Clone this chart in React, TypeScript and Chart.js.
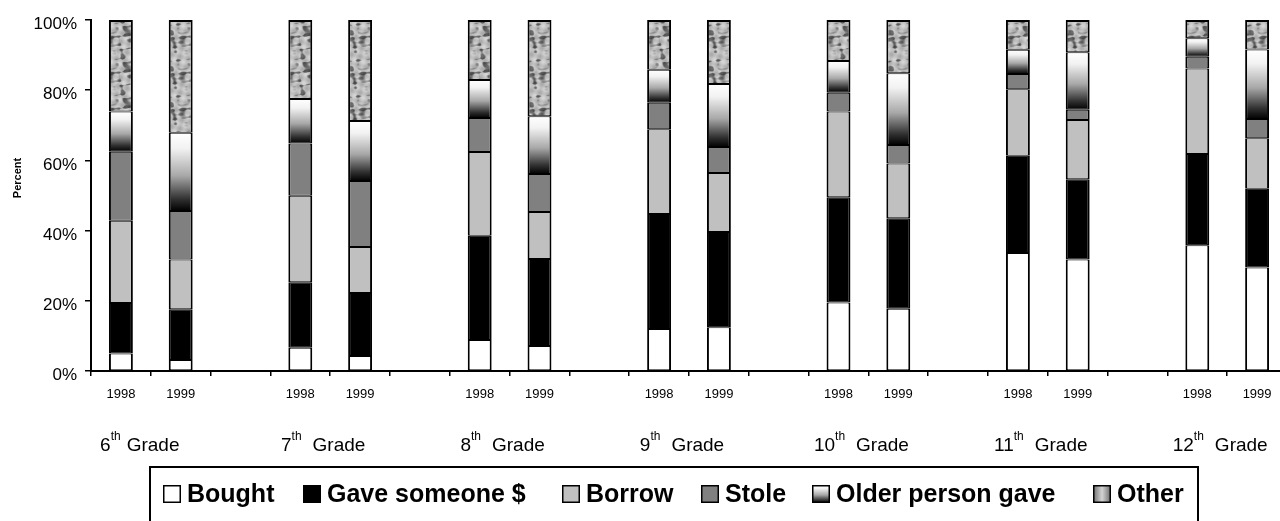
import { useEffect, useRef } from 'react';
import { Chart, registerables } from 'chart.js';

Chart.register(...registerables);

const FONT = '"Liberation Sans", Arial, Helvetica, sans-serif';

const YEARS = ['1998', '1999'];
const GRADES = ['6', '7', '8', '9', '10', '11', '12'];
const SERIES = ['Bought', 'Gave someone $', 'Borrow', 'Stole', 'Older person gave', 'Other'];
const Y_TICKS = [0, 20, 40, 60, 80, 100];

// one value per bar: 6th 1998, 6th 1999, 7th 1998, 7th 1999, ... 12th 1999
const bought = [5.0, 3.1, 6.6, 4.3, 8.8, 7.1, 12.0, 12.5, 19.5, 17.7, 33.6, 31.8, 35.8, 29.5];
const gave = [14.4, 14.5, 18.7, 17.9, 29.7, 24.8, 32.7, 27.1, 30.0, 25.8, 27.7, 22.8, 26.0, 22.4];
const borrow = [23.4, 14.2, 24.6, 13.1, 23.9, 13.4, 24.2, 16.8, 24.4, 15.6, 19.0, 16.9, 24.4, 14.4];
const stole = [19.7, 13.8, 14.9, 18.8, 9.7, 10.8, 7.5, 7.4, 5.4, 5.3, 4.3, 2.9, 3.3, 5.5];
const older = [11.4, 22.3, 12.7, 17.1, 10.8, 16.5, 9.4, 18.0, 9.0, 20.4, 6.9, 16.4, 5.3, 19.8];
const other = [26.1, 32.1, 22.5, 28.8, 17.1, 27.4, 14.2, 18.2, 11.7, 15.2, 8.5, 9.2, 5.2, 8.4];

// legend item x positions (layout)
const LEGEND_BOX_X = [163, 303, 562, 701, 812, 1093];

// build category list: 1998, 1999, gap, 1998, 1999, gap, ...
const labels: string[] = [];
GRADES.forEach((_, gi) => {
  YEARS.forEach((y) => labels.push(y));
  if (gi < GRADES.length - 1) labels.push('');
});
const spread = (arr: number[]) => {
  const out: (number | null)[] = [];
  arr.forEach((v, i) => {
    out.push(v);
    if (i % 2 === 1 && i < arr.length - 1) out.push(null);
  });
  return out;
};

function makeTexture(): CanvasPattern | string {
  const size = 36;
  const c = document.createElement('canvas');
  c.width = size;
  c.height = size;
  const g = c.getContext('2d');
  if (!g) return '#aaaaaa';
  const img = g.createImageData(size, size);
  const a = (Math.PI * 2) / size;
  for (let y = 0; y < size; y++) {
    for (let x = 0; x < size; x++) {
      const f =
        Math.sin(a * (x + 2 * y) + 2 * Math.sin(a * 3 * y)) +
        Math.sin(a * (2 * x - y) + 1.5 * Math.cos(a * 2 * x)) +
        0.6 * Math.sin(a * (3 * x + 2 * y) + 1.2 * Math.sin(a * (x - 3 * y)));
      const m = 0.5 * Math.cos(a * (4 * x + y)) + 0.5 * Math.sin(a * (x - 4 * y));
      const dark = Math.max(0, f - 0.15);
      let v = 192 + 22 * m - 70 * Math.min(1.5, dark);
      v = Math.max(70, Math.min(232, v));
      const k = (y * size + x) * 4;
      img.data[k] = v;
      img.data[k + 1] = v;
      img.data[k + 2] = v;
      img.data[k + 3] = 255;
    }
  }
  g.putImageData(img, 0, 0);
  const ctx = document.createElement('canvas').getContext('2d');
  return ctx ? (ctx.createPattern(c, 'repeat') as CanvasPattern) : '#aaaaaa';
}

function fillOlder(ctx: CanvasRenderingContext2D, top: number, bottom: number) {
  const g = ctx.createLinearGradient(0, top, 0, bottom);
  g.addColorStop(0, '#ffffff');
  g.addColorStop(0.2, '#f2f2f2');
  g.addColorStop(0.55, '#a8a8a8');
  g.addColorStop(0.85, '#303030');
  g.addColorStop(1, '#000000');
  return g;
}

export default function App() {
  const ref = useRef<HTMLCanvasElement>(null);

  useEffect(() => {
    const canvas = ref.current;
    if (!canvas) return;
    const texture = makeTexture();

    const olderBg = (c: any) => {
      const chart = c.chart;
      const ys = chart.scales && chart.scales.y;
      if (c.type !== 'data' || !ys) return '#999999';
      const i = c.dataIndex;
      const v = c.raw;
      if (v == null || typeof i !== 'number') return '#999999';
      let base = 0;
      for (let d = 0; d < c.datasetIndex; d++) base += (chart.data.datasets[d].data[i] as number) || 0;
      const yb = ys.getPixelForValue(base);
      const yt = ys.getPixelForValue(base + v);
      if (!Number.isFinite(yb) || !Number.isFinite(yt) || yb === yt) return '#999999';
      return fillOlder(chart.ctx, yt, yb);
    };

    const fills: any[] = ['#ffffff', '#000000', '#c0c0c0', '#808080', olderBg, texture];
    const seriesData = [bought, gave, borrow, stole, older, other];

    const extras = {
      id: 'extras',
      afterDraw(chart: any) {
        const ctx: CanvasRenderingContext2D = chart.ctx;
        const xs = chart.scales.x;
        ctx.save();
        ctx.fillStyle = '#000';

        // y title
        ctx.save();
        ctx.translate(18, 178);
        ctx.rotate(-Math.PI / 2);
        ctx.font = `bold 11px ${FONT}`;
        ctx.textAlign = 'center';
        ctx.textBaseline = 'middle';
        ctx.fillText('Percent', 0, 0);
        ctx.restore();

        // grade labels
        ctx.textAlign = 'left';
        ctx.textBaseline = 'alphabetic';
        GRADES.forEach((g, gi) => {
          const c = (xs.getPixelForValue(gi * 3) + xs.getPixelForValue(gi * 3 + 1)) / 2;
          ctx.font = `19px ${FONT}`;
          const w1 = ctx.measureText(g).width;
          const w3 = ctx.measureText('Grade').width;
          ctx.font = `12px ${FONT}`;
          const w2 = ctx.measureText('th').width;
          const gap = gi === 0 ? 6 : 11;
          const total = w1 + w2 + gap + w3;
          let x = c - total / 2 - (gi === 0 ? 11 : 7);
          ctx.font = `19px ${FONT}`;
          ctx.fillText(g, x, 451);
          x += w1;
          ctx.font = `12px ${FONT}`;
          ctx.fillText('th', x, 440);
          x += w2 + gap;
          ctx.font = `19px ${FONT}`;
          ctx.fillText('Grade', x, 451);
        });

        // legend frame
        ctx.strokeStyle = '#000';
        ctx.lineWidth = 2;
        ctx.beginPath();
        ctx.moveTo(150, 540);
        ctx.lineTo(150, 467);
        ctx.lineTo(1198, 467);
        ctx.lineTo(1198, 540);
        ctx.stroke();

        // legend items
        const bs = 18;
        const by = 485;
        SERIES.forEach((name, si) => {
          const bx = LEGEND_BOX_X[si];
          let f: any = fills[si];
          if (si === 4) f = fillOlder(ctx, by, by + bs);
          if (si === 5) {
            const g = ctx.createLinearGradient(bx, 0, bx + bs, 0);
            g.addColorStop(0, '#6a6a6a');
            g.addColorStop(0.5, '#d4d4d4');
            g.addColorStop(1, '#6a6a6a');
            f = g;
          }
          ctx.fillStyle = f;
          ctx.fillRect(bx, by, bs, bs);
          ctx.strokeStyle = '#000';
          ctx.lineWidth = 1.5;
          ctx.strokeRect(bx + 0.75, by + 0.75, bs - 1.5, bs - 1.5);
          ctx.fillStyle = '#000';
          ctx.font = `bold 25px ${FONT}`;
          ctx.textBaseline = 'middle';
          ctx.fillText(name, bx + 24, by + bs / 2 + 1);
        });
        ctx.restore();
      },
    };

    const chart = new Chart(canvas, {
      type: 'bar',
      data: {
        labels,
        datasets: SERIES.map((name, si) => ({
          label: name,
          data: spread(seriesData[si]),
          backgroundColor: fills[si],
          borderColor: '#000000',
          borderWidth: { top: si === 5 ? 2 : 1, bottom: 1, left: 2, right: 2 },
          borderSkipped: false,
          barPercentage: 0.4,
          categoryPercentage: 1,
        })),
      },
      options: {
        responsive: false,
        animation: false,
        events: [],
        layout: { padding: { top: 20, left: 0, right: 0, bottom: 0 } },
        plugins: { legend: { display: false }, tooltip: { enabled: false } },
        scales: {
          x: {
            stacked: true,
            offset: true,
            grid: {
              display: true,
              drawOnChartArea: false,
              drawTicks: true,
              tickLength: 5,
              color: '#000',
              lineWidth: 1.5,
              offset: true,
            },
            border: { display: true, color: '#000', width: 2 },
            ticks: {
              autoSkip: false,
              maxRotation: 0,
              minRotation: 0,
              padding: 11,
              color: '#000',
              font: { family: FONT, size: 13 },
            },
            afterFit: (s: any) => {
              s.height = 150;
            },
          },
          y: {
            stacked: true,
            min: 0,
            max: 100,
            afterBuildTicks: (s: any) => {
              s.ticks = Y_TICKS.map((v) => ({ value: v }));
            },
            grid: {
              display: true,
              drawOnChartArea: false,
              drawTicks: true,
              tickLength: 6,
              color: '#000',
              lineWidth: 1.5,
            },
            border: { display: true, color: '#000', width: 2 },
            ticks: {
              padding: 8,
              labelOffset: 4.5,
              color: '#000',
              font: { family: FONT, size: 17 },
              callback: (v: any) => `${v}%`,
            },
            afterFit: (s: any) => {
              s.width = 91;
            },
          },
        },
      },
      plugins: [extras],
    } as any);
    chart.update('none');

    return () => chart.destroy();
  }, []);

  return (
    <div
      style={{
        position: 'fixed',
        left: 0,
        top: 0,
        width: 1280,
        height: 521,
        overflow: 'hidden',
        background: '#fff',
      }}
    >
      <canvas ref={ref} width={1287} height={521} style={{ display: 'block', width: 1287, height: 521 }} />
    </div>
  );
}
